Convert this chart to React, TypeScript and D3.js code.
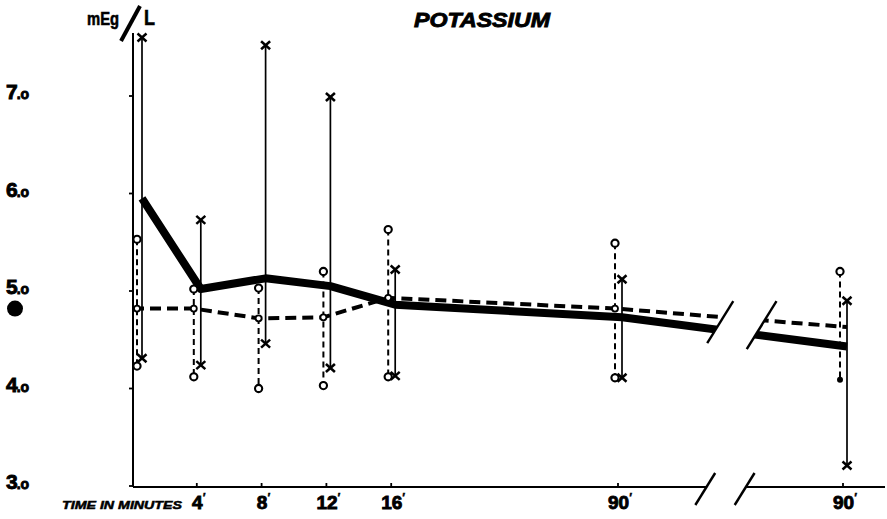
import React from "react";
import * as d3 from "d3";

// ---- data ----
const minutes = [0, 4, 8, 12, 16, 30, 90];
const solidMean = [5.95, 5.02, 5.13, 5.05, 4.86, 4.73, 4.43];
const dashedMean = [4.82, 4.82, 4.72, 4.73, 4.93, 4.82, 4.63];
const oHigh = [5.53, 5.02, 5.03, 5.2, 5.63, 5.49, 5.2];
const oLow = [4.23, 4.12, 4.0, 4.03, 4.12, 4.11, 4.09];
const xHigh = [7.6, 5.73, 7.52, 6.99, 5.22, 5.12, 4.9];
const xLow = [4.31, 4.24, 4.46, 4.21, 4.13, 4.11, 3.21];
const yTicks = [3, 4, 5, 6, 7];
const yTickLabels = ["3", "4", "5", "6", "7"];
const xTickValues = [4, 8, 12, 16, 30, 90];
const xTickLabels = ["4", "8", "12", "16", "90", "90"];
const normalValue = 4.82;
const breakMinutes = [53, 63.5];

const W = 887;
const H = 519;
const FONT = "'Liberation Sans', Arial, sans-serif";

export default function App() {
  const x = d3.scaleLinear().domain([0, 30, 90]).range([132, 618, 843]);
  const y = d3.scaleLinear().domain([3, 7]).range([486, 96]);
  const axisX = x(0) + 1;
  const axisY = y(3) + 1;

  const oPos = (i: number) => (minutes[i] === 0 ? x(0) + 5 : x(minutes[i]) - 3);
  const xPos = (i: number) => (minutes[i] === 0 ? x(0) + 10 : x(minutes[i]) + 4);

  const solidLine = d3
    .line<number>()
    .x((_, i) => xPos(i))
    .y((d) => y(d));
  const dashedLine = d3
    .line<number>()
    .x((_, i) => (i === 0 ? axisX : i === minutes.length - 1 ? xPos(i) : oPos(i)))
    .y((d) => y(d));

  const slope = 0.62;
  const seg = (cx: number, cy: number, h: number) =>
    [cx + h * slope, cy - h, cx - h * slope, cy + h] as const;

  const bL = x(breakMinutes[0]);
  const bR = x(breakMinutes[1]);
  const upperY = y(4.68);
  const upL = seg(bL + 16, upperY, 21);
  const upR = seg(bR + 18, upperY + 3, 24);
  const axL = seg(bL + 1, axisY + 2, 16);
  const axR = seg(bR + 1, axisY + 2, 16);

  const gapPoly = (() => {
    const top = upperY - 80;
    const bot = upperY + 80;
    const lx = (yy: number) => bL + 16 - (yy - upperY) * slope;
    const rx = (yy: number) => bR + 18 - (yy - upperY - 3) * slope;
    return `${lx(top)},${top} ${rx(top)},${top} ${rx(bot)},${bot} ${lx(bot)},${bot}`;
  })();

  const xMark = (cx: number, cy: number, k: string) => (
    <g key={k} stroke="#000" strokeWidth={2.5}>
      <line x1={cx - 4.5} y1={cy - 4} x2={cx + 4.5} y2={cy + 4} />
      <line x1={cx - 4.5} y1={cy + 4} x2={cx + 4.5} y2={cy - 4} />
    </g>
  );

  const heavy = { stroke: "#000", strokeWidth: 0.9, paintOrder: "stroke" as const };

  return (
    <svg
      width={W}
      height={H}
      style={{ position: "absolute", left: 0, top: 0, background: "#fff" }}
      fontFamily={FONT}
    >
      <defs>
        <mask id="gap">
          <rect x={0} y={0} width={W} height={H} fill="#fff" />
          <polygon points={gapPoly} fill="#000" />
        </mask>
      </defs>
      <rect width={W} height={H} fill="#fff" />

      {/* title */}
      <text x={414} y={27} fontSize={21} fontWeight="bold" fontStyle="italic" textLength={136} lengthAdjust="spacingAndGlyphs" {...heavy}>
        POTASSIUM
      </text>

      {/* unit */}
      <text x={87} y={25} fontSize={18} fontWeight="bold" textLength={32} lengthAdjust="spacingAndGlyphs" {...heavy} strokeWidth={0.6}>mEg</text>
      <line x1={121} y1={41} x2={140} y2={6} stroke="#000" strokeWidth={4} />
      <text x={144} y={25} fontSize={22} fontWeight="bold" textLength={11} lengthAdjust="spacingAndGlyphs" {...heavy} strokeWidth={0.6}>L</text>

      {/* y axis */}
      <line x1={axisX} y1={33} x2={axisX} y2={axisY} stroke="#000" strokeWidth={2} />
      {yTicks.map((t, i) => (
        <g key={"yt" + i}>
          <line x1={axisX - 4} x2={axisX} y1={y(t)} y2={y(t)} stroke="#000" strokeWidth={1.8} />
          <text x={6} y={y(t) + 3} fontSize={21} fontWeight="bold" {...heavy}>
            {yTickLabels[i]}
            <tspan fontSize={14} dx={-1}>.o</tspan>
          </text>
        </g>
      ))}

      {/* x axis with break */}
      <line x1={axisX} y1={axisY} x2={axL[0] - 9} y2={axisY} stroke="#000" strokeWidth={2} />
      <line x1={axR[0] - 9} y1={axisY} x2={W - 2} y2={axisY} stroke="#000" strokeWidth={2} />
      <line x1={axL[0]} y1={axL[1]} x2={axL[2]} y2={axL[3]} stroke="#000" strokeWidth={2.4} />
      <line x1={axR[0]} y1={axR[1]} x2={axR[2]} y2={axR[3]} stroke="#000" strokeWidth={2.4} />
      {xTickValues.map((t, i) => (
        <g key={"xt" + i}>
          <line x1={x(t)} x2={x(t)} y1={axisY - 4} y2={axisY} stroke="#000" strokeWidth={1.8} />
          <text x={x(t) + 2} y={509} fontSize={19} fontWeight="bold" textAnchor="middle" {...heavy}>
            {xTickLabels[i]}
            <tspan fontSize={12} dy={-7} strokeWidth={0.4}>′</tspan>
          </text>
        </g>
      ))}
      <text x={62} y={509} fontSize={11} fontWeight="bold" fontStyle="italic" textLength={120} lengthAdjust="spacingAndGlyphs" {...heavy} strokeWidth={0.5}>
        TIME IN MINUTES
      </text>

      {/* normal reference dot */}
      <circle cx={15} cy={y(normalValue)} r={8} fill="#000" />

      {/* range bars */}
      {minutes.map((_, i) => (
        <g key={"bar" + i}>
          <line x1={oPos(i)} x2={oPos(i)} y1={y(oHigh[i])} y2={y(oLow[i])} stroke="#000" strokeWidth={2} strokeDasharray="6,4" />
          <line x1={xPos(i)} x2={xPos(i)} y1={y(xHigh[i])} y2={y(xLow[i])} stroke="#000" strokeWidth={1.7} />
        </g>
      ))}

      {/* mean lines */}
      <g mask="url(#gap)">
        <path d={dashedLine(dashedMean) || ""} fill="none" stroke="#000" strokeWidth={4} strokeDasharray="11,6" />
        <path d={solidLine(solidMean) || ""} fill="none" stroke="#000" strokeWidth={8} strokeLinejoin="round" />
      </g>
      <line x1={upL[0]} y1={upL[1]} x2={upL[2]} y2={upL[3]} stroke="#000" strokeWidth={2.4} />
      <line x1={upR[0]} y1={upR[1]} x2={upR[2]} y2={upR[3]} stroke="#000" strokeWidth={2.4} />

      {/* markers */}
      {minutes.map((_, i) => (
        <g key={"mk" + i}>
          <circle cx={oPos(i)} cy={y(oHigh[i])} r={3.6} fill="#fff" stroke="#000" strokeWidth={2.1} />
          {i === minutes.length - 1 ? (
            <circle cx={oPos(i)} cy={y(oLow[i])} r={3} fill="#000" />
          ) : (
            <circle cx={oPos(i)} cy={y(oLow[i])} r={3.6} fill="#fff" stroke="#000" strokeWidth={2.1} />
          )}
          {i < minutes.length - 1 && (
            <circle cx={oPos(i)} cy={y(dashedMean[i])} r={3} fill="#fff" stroke="#000" strokeWidth={1.8} />
          )}
          {xMark(xPos(i), y(xHigh[i]), "xh" + i)}
          {xMark(xPos(i), y(xLow[i]), "xl" + i)}
        </g>
      ))}
    </svg>
  );
}
